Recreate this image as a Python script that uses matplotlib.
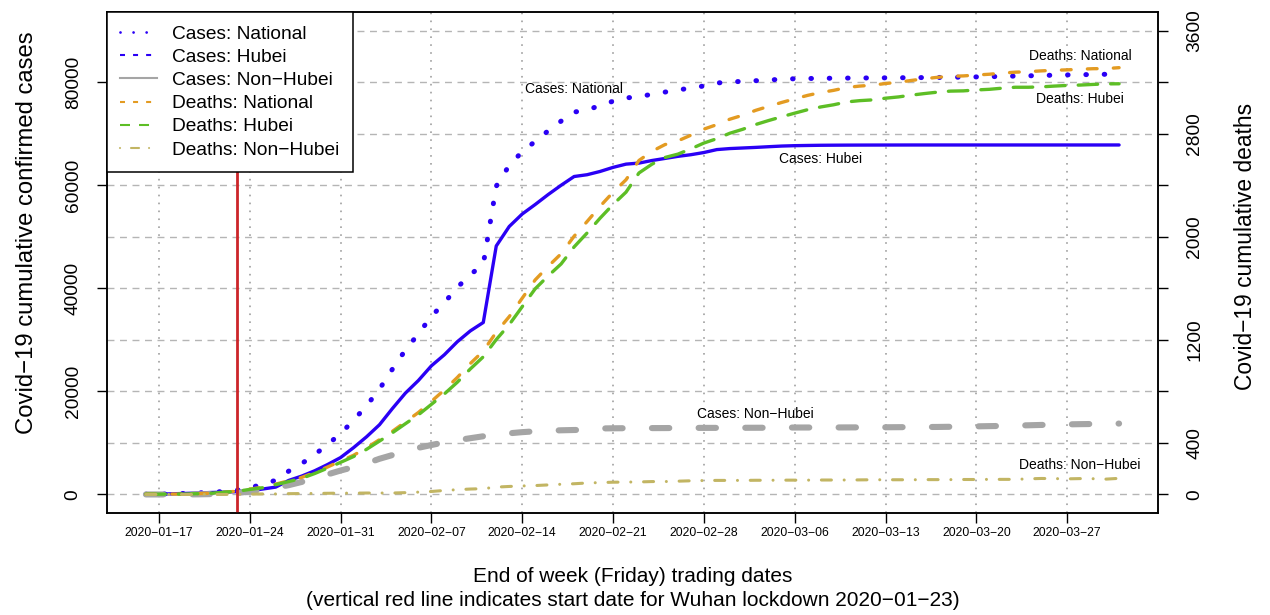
import numpy as np
import pandas as pd
import matplotlib
matplotlib.use('Agg')
import matplotlib.pyplot as plt
from matplotlib.lines import Line2D
from matplotlib.ticker import MultipleLocator, FixedLocator

plt.rcParams['font.family'] = ['Liberation Sans', 'DejaVu Sans']
plt.rcParams['lines.scale_dashes'] = False

MINUS = '\u2212'

# daily data, 2020-01-16 .. 2020-03-31
dates = pd.date_range('2020-01-16', '2020-03-31', freq='D')

cases_national = [
    45, 62, 121, 198, 291, 440, 571, 830, 1287, 1975, 2744, 4515, 5974, 7711, 9692, 11791,
    14380, 17205, 20438, 24324, 28018, 31161, 34546, 37198, 40171, 42638, 44653, 59804, 63851,
    66492, 68500, 70548, 72436, 74185, 74576, 75465, 76288, 76936, 77150, 77658, 78064, 78497,
    78824, 79251, 79824,
    80026, 80151, 80270, 80409, 80552, 80651, 80695, 80735, 80754, 80778, 80793, 80813, 80824,
    80844, 80860, 80881, 80894, 80928, 80967, 81008, 81054, 81093, 81171, 81218, 81285, 81340,
    81394, 81439, 81470, 81518, 81554]

cases_hubei = [
    45, 62, 121, 198, 270, 375, 444, 549, 729, 1052, 1423, 2714, 3554, 4586, 5806, 7153,
    9074, 11177, 13522, 16678, 19665, 22112, 24953, 27100, 29631, 31728, 33366, 48206, 51986,
    54406, 56249, 58182, 59989, 61682, 62031, 62662, 63454, 64084, 64287, 64786, 65187, 65596,
    65914, 66337, 66907,
    67103, 67217, 67332, 67466, 67592, 67666, 67707, 67743, 67760, 67773, 67781, 67786, 67790,
    67794, 67798, 67799, 67799, 67800, 67800, 67800, 67800, 67800, 67801, 67801, 67801, 67801,
    67801, 67801, 67801, 67801, 67802]

cases_non_hubei = [
    0, 0, 0, 0, 21, 65, 127, 281, 558, 923, 1321, 1801, 2420, 3125, 3886, 4638,
    5306, 6028, 6916, 7646, 8353, 9049, 9593, 10098, 10540, 10910, 11287, 11598, 11865,
    12086, 12251, 12366, 12447, 12503, 12545, 12803, 12834, 12852, 12863, 12872, 12877, 12901,
    12910, 12914, 12917,
    12923, 12934, 12938, 12943, 12960, 12985, 12988, 12992, 12994, 13005, 13012, 13027, 13034,
    13050, 13062, 13082, 13095, 13128, 13167, 13208, 13254, 13293, 13370, 13417, 13484, 13539,
    13593, 13638, 13669, 13717, 13752]

deaths_national = [
    2, 2, 3, 3, 6, 9, 17, 25, 41, 56, 80, 106, 132, 170, 213, 259,
    304, 361, 425, 490, 563, 636, 722, 811, 908, 1016, 1113, 1259, 1380,
    1523, 1665, 1770, 1868, 2004, 2118, 2236, 2345, 2442, 2592, 2663, 2715, 2744,
    2788, 2835, 2870,
    2912, 2943, 2981, 3012, 3042, 3070, 3097, 3119, 3136, 3158, 3169, 3176, 3189,
    3199, 3213, 3226, 3237, 3245, 3248, 3255, 3261, 3270, 3277, 3281, 3287, 3292,
    3295, 3300, 3304, 3305, 3312]

deaths_hubei = [
    2, 2, 3, 3, 6, 9, 17, 24, 39, 52, 76, 100, 125, 162, 204, 249,
    294, 350, 414, 479, 549, 618, 699, 780, 871, 974, 1068, 1202, 1318,
    1457, 1596, 1696, 1789, 1921, 2029, 2144, 2250, 2346, 2495, 2563, 2615, 2641,
    2682, 2727, 2761,
    2803, 2834, 2871, 2902, 2931, 2959, 2986, 3007, 3024, 3046, 3056, 3062, 3075,
    3085, 3099, 3111, 3122, 3130, 3132, 3139, 3144, 3153, 3160, 3160, 3163, 3169,
    3174, 3177, 3182, 3186, 3187]

deaths_non_hubei = [
    0, 0, 0, 0, 0, 0, 0, 1, 2, 4, 4, 6, 7, 8, 9, 10,
    10, 11, 11, 11, 14, 18, 23, 31, 37, 42, 45, 57, 62,
    66, 69, 74, 79, 83, 89, 92, 95, 96, 97, 100, 100, 103,
    106, 108, 109,
    109, 109, 110, 110, 111, 111, 111, 112, 112, 112, 113, 114, 114,
    114, 114, 115, 115, 115, 116, 116, 117, 117, 117, 121, 124, 123,
    121, 123, 122, 119, 125]

week_ticks = pd.date_range('2020-01-17', '2020-03-27', freq='7D')
week_labels = [d.strftime('%Y-%m-%d').replace('-', MINUS) for d in week_ticks]
lockdown = pd.Timestamp('2020-01-23')

blue = '#2A00F5'
gray = '#A5A5A5'
orange = '#E39B22'
green = '#5DBE25'
olive = '#C2B563'
red = '#CC2529'

fig = plt.figure(figsize=(12.7, 6.15), dpi=100)
ax = fig.add_axes([107 / 1270, 102 / 615, 1051 / 1270, 501 / 615])
ax2 = ax.twinx()

# grid (drawn on the lower axes so the data sits on top)
ax.yaxis.set_major_locator(FixedLocator([0, 20000, 40000, 60000, 80000]))
ax.yaxis.set_minor_locator(MultipleLocator(10000))
ax.grid(True, which='both', axis='y', color='#B5B5B5', lw=1, ls=(0, (5, 4)))
ax.set_xticks(week_ticks)
ax.grid(True, which='major', axis='x', color='#A0A0A0', lw=1.2, ls=(0, (1.2, 4.5)))
ax.set_axisbelow(True)

# cases (left axis)
ax.plot(dates, cases_national, color=blue, lw=3.6, ls=(0, (0.4, 12.8)),
        dash_capstyle='round')
ax.plot(dates, cases_hubei, color=blue, lw=2.4, solid_capstyle='round')
ax.plot(dates, cases_non_hubei, color=gray, lw=4.4, ls=(0, (12.5, 21.1)),
        dash_capstyle='round')

# deaths (right axis)
ax2.plot(dates, deaths_national, color=orange, lw=2.4, ls=(0, (7, 11.7)),
         dash_capstyle='round')
ax2.plot(dates, deaths_hubei, color=green, lw=2.4, ls=(0, (14, 9.4)),
         dash_capstyle='round')
ax2.plot(dates, deaths_non_hubei, color=olive, lw=2.2, ls=(0, (7.2, 9.2, 0.01, 9.2)),
         dash_capstyle='round')

ax2.axvline(lockdown, color=red, lw=2)

ax.set_xlim(pd.Timestamp('2020-01-13'), pd.Timestamp('2020-04-03'))
ax.set_ylim(-3600, 93600)
ax2.set_ylim(-144, 3744)

ax.set_xticklabels(week_labels, fontsize=8.7)
ax.tick_params(axis='x', length=7.2, width=1, pad=3)
ax.tick_params(axis='y', which='major', length=7.2, width=1, pad=11, labelsize=13.8)
ax.tick_params(axis='y', which='minor', length=0)
for lab in ax.get_yticklabels():
    lab.set_rotation(90)
    lab.set_va('center')

ax2.set_yticks(np.arange(0, 3601, 400))
ax2.set_yticklabels(['0', '400', '', '1200', '', '2000', '', '2800', '', '3600'])
ax2.tick_params(axis='y', length=7.2, width=1, pad=13, labelsize=13.8)
for lab in ax2.get_yticklabels():
    lab.set_rotation(90)
    lab.set_va('center')

for a in (ax, ax2):
    for s in a.spines.values():
        s.set_linewidth(1.1)
        s.set_color('black')

# curve labels
ax.text(pd.Timestamp('2020-02-18'), 78700, 'Cases: National', fontsize=10, ha='center', va='center')
ax.text(pd.Timestamp('2020-03-08'), 65050, 'Cases: Hubei', fontsize=10, ha='center', va='center')
ax.text(pd.Timestamp('2020-03-03'), 15530, f'Cases: Non{MINUS}Hubei', fontsize=10, ha='center', va='center')
ax2.text(pd.Timestamp('2020-03-28'), 3402, 'Deaths: National', fontsize=10, ha='center', va='center')
ax2.text(pd.Timestamp('2020-03-28'), 3068, 'Deaths: Hubei', fontsize=10, ha='center', va='center')
ax2.text(pd.Timestamp('2020-03-28'), 225, f'Deaths: Non{MINUS}Hubei', fontsize=10, ha='center', va='center')

# legend (handles as in the original key)
handles = [
    Line2D([], [], color=blue, lw=2.0, ls=(0, (0.01, 9.4)), dash_capstyle='round'),
    Line2D([], [], color=blue, lw=1.5, ls=(0, (3.6, 5.8))),
    Line2D([], [], color=gray, lw=1.5),
    Line2D([], [], color=orange, lw=1.5, ls=(0, (3.6, 5.8))),
    Line2D([], [], color=green, lw=1.5, ls=(0, (7.2, 6.5))),
    Line2D([], [], color=olive, lw=1.5, ls=(0, (0.01, 7.9, 5.8, 7.2)), dash_capstyle='round'),
]
labels = ['Cases: National', 'Cases: Hubei', f'Cases: Non{MINUS}Hubei',
          'Deaths: National', 'Deaths: Hubei', f'Deaths: Non{MINUS}Hubei']
leg = ax2.legend(handles, labels, loc='upper left', bbox_to_anchor=(0, 1),
                 borderaxespad=0, fontsize=13.8, frameon=True, fancybox=False,
                 edgecolor='black', framealpha=1, handlelength=1.9,
                 handletextpad=0.8, borderpad=0.7, labelspacing=0.3)
leg.get_frame().set_linewidth(1.1)

fig.text(27 / 1270, 1 - 233 / 615, f'Covid{MINUS}19 cumulative confirmed cases',
         rotation=90, ha='center', va='center', fontsize=17.2)
fig.text(1246 / 1270, 1 - 246 / 615, f'Covid{MINUS}19 cumulative deaths',
         rotation=90, ha='center', va='center', fontsize=16.4)
fig.text(632.5 / 1270, 1 - 577 / 615, 'End of week (Friday) trading dates',
         ha='center', va='center', fontsize=15)
fig.text(632.5 / 1270, 1 - 601 / 615,
         f'(vertical red line indicates start date for Wuhan lockdown 2020{MINUS}01{MINUS}23)',
         ha='center', va='center', fontsize=15)

fig.savefig('out.png', dpi=100)
